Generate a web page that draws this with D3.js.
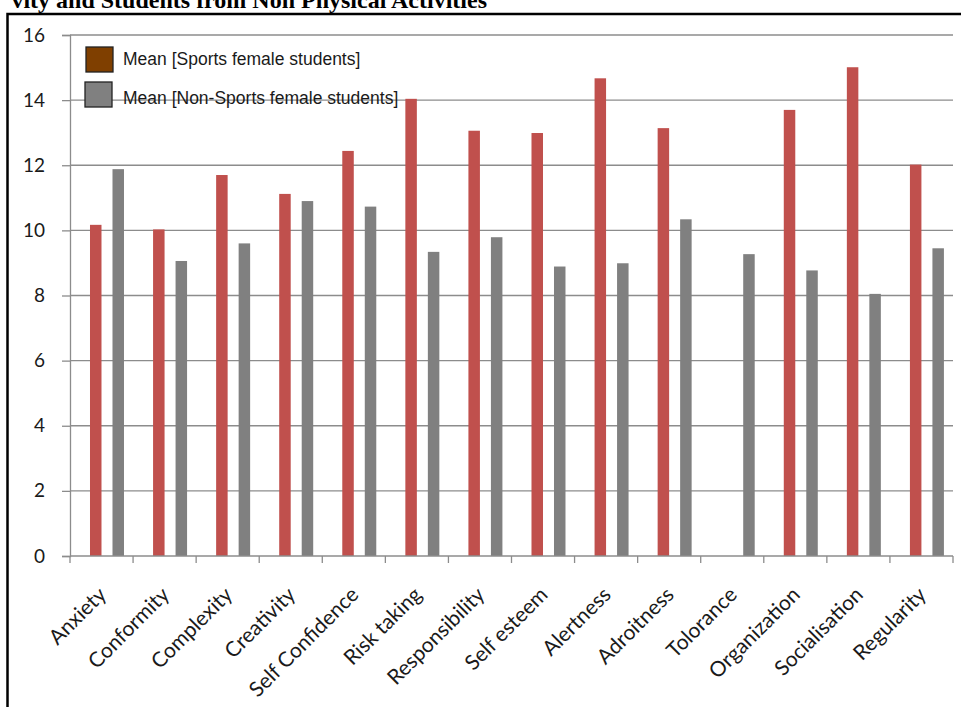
<!DOCTYPE html>
<html>
<head>
<meta charset="utf-8">
<script src="https://cdn.jsdelivr.net/npm/d3@7"></script>
<style>
  html, body { margin: 0; padding: 0; background: #fff; overflow: hidden; }
  svg { display: block; }
</style>
</head>
<body>
<svg id="chart" width="961" height="707"></svg>
<script>
const categories = ["Anxiety","Conformity","Complexity","Creativity","Self Confidence","Risk taking","Responsibility","Self esteem","Alertness","Adroitness","Tolorance","Organization","Socialisation","Regularity"];
const sportsValues = [10.17, 10.03, 11.70, 11.12, 12.44, 14.04, 13.06, 12.99, 14.67, 13.14, null, 13.70, 15.01, 12.02];
const nonSportsValues = [11.88, 9.06, 9.60, 10.90, 10.73, 9.34, 9.79, 8.89, 8.99, 10.34, 9.27, 8.77, 8.05, 9.45];
const seriesNames = ["Mean [Sports female students]", "Mean [Non-Sports female students]"];
const barColors = ["#C0504D", "#808080"];
const legendColors = ["#7F3F00", "#808080"];
const yTicks = [0, 2, 4, 6, 8, 10, 12, 14, 16];
const titleText = "vity and Students from Non Physical Activities";

(function () {
const svg = d3.select("#chart");

// Title (cut off at top, as in the source image)
svg.append("text")
  .attr("x", 487).attr("y", 8)
  .attr("text-anchor", "end")
  .attr("font-family", "Liberation Serif, Times New Roman, serif")
  .attr("font-weight", "bold")
  .attr("font-size", 24)
  .attr("fill", "#000")
  .text(titleText);

// Frame
svg.append("rect")
  .attr("x", 7.5).attr("y", 14).attr("width", 1000).attr("height", 1000)
  .attr("fill", "none").attr("stroke", "#000").attr("stroke-width", 2.5);

const pLeft = 70, pRight = 953, pTop = 35, pBottom = 556;
const y = d3.scaleLinear().domain([0, 16]).range([pBottom, pTop]);
const x0 = d3.scaleBand().domain(categories).range([pLeft, pRight]).padding(0);
const bw = x0.bandwidth();
const x1 = d3.scaleBand().domain([0, 1]).range([0.317 * bw, 0.856 * bw]).paddingInner(0.489).paddingOuter(0);

// Gridlines
svg.append("g").selectAll("line").data(yTicks.filter(d => d > 0)).join("line")
  .attr("x1", pLeft).attr("x2", pRight)
  .attr("y1", d => y(d)).attr("y2", d => y(d))
  .attr("stroke", "#8c8c8c").attr("stroke-width", 1.3);

// Y axis
const yAxis = d3.axisLeft(y).tickValues(yTicks).tickSize(8).tickPadding(17);
const yg = svg.append("g").attr("transform", `translate(${pLeft},0)`).call(yAxis);
yg.select(".domain").attr("stroke", "#8c8c8c").attr("stroke-width", 1.3);
yg.selectAll(".tick line").attr("stroke", "#8c8c8c").attr("stroke-width", 1.3);
yg.selectAll(".tick text")
  .attr("font-family", "Lato, Open Sans, sans-serif")
  .attr("font-size", 19).attr("fill", "#1a1a1a");

// Bars
const seriesData = [sportsValues, nonSportsValues];
const groups = svg.append("g").selectAll("g").data(categories).join("g")
  .attr("transform", d => `translate(${x0(d)},0)`);
groups.selectAll("rect")
  .data((d, i) => seriesData.map((vals, s) => ({ s, v: vals[i] })).filter(o => o.v != null))
  .join("rect")
  .attr("x", o => x1(o.s))
  .attr("width", x1.bandwidth())
  .attr("y", o => y(o.v))
  .attr("height", o => y(0) - y(o.v))
  .attr("fill", o => barColors[o.s]);

// X axis
const xg = svg.append("g").attr("transform", `translate(0,${pBottom})`);
xg.append("line").attr("x1", pLeft).attr("x2", pRight).attr("y1", 0).attr("y2", 0)
  .attr("stroke", "#8c8c8c").attr("stroke-width", 1.3);
const boundaries = categories.map(c => x0(c)).concat([pRight]);
xg.selectAll("line.tk").data(boundaries).join("line")
  .attr("class", "tk")
  .attr("x1", d => d).attr("x2", d => d).attr("y1", 0).attr("y2", 7)
  .attr("stroke", "#8c8c8c").attr("stroke-width", 1.3);
xg.selectAll("text").data(categories).join("text")
  .attr("transform", d => `translate(${x0(d) + bw / 2 + 6},${40}) rotate(-45)`)
  .attr("text-anchor", "end")
  .attr("font-family", "Lato, Open Sans, sans-serif")
  .attr("font-size", 21).attr("fill", "#1a1a1a")
  .text(d => d);

// Legend
const legend = svg.append("g");
const legendRows = [
  { sx: 86, sy: 47, tx: 123, ty: 59 },
  { sx: 85, sy: 82, tx: 123, ty: 98 }
];
legend.selectAll("rect").data(seriesNames).join("rect")
  .attr("x", (d, i) => legendRows[i].sx).attr("y", (d, i) => legendRows[i].sy)
  .attr("width", 27).attr("height", 25)
  .attr("fill", (d, i) => legendColors[i])
  .attr("stroke", "#222").attr("stroke-width", 1.3);
legend.selectAll("text").data(seriesNames).join("text")
  .attr("x", (d, i) => legendRows[i].tx).attr("y", (d, i) => legendRows[i].ty)
  .attr("dominant-baseline", "central")
  .attr("font-family", "Liberation Sans, Arial, sans-serif")
  .attr("font-size", 17.5).attr("fill", "#1a1a1a")
  .text(d => d);
})();
</script>
</body>
</html>
